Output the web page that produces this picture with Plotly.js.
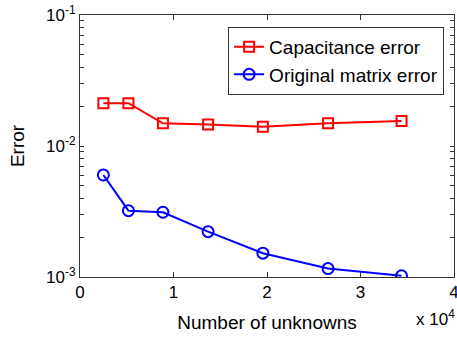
<!DOCTYPE html>
<html>
<head>
<meta charset="utf-8">
<script src="https://cdn.plot.ly/plotly-3.0.1.min.js"></script>
<style>
  html, body { margin: 0; padding: 0; background: #fff; }
  #chart { width: 457px; height: 338px; }
</style>
</head>
<body>
<div id="chart"></div>
<script>
// Number of unknowns for each mesh
const unknowns = [2500, 5180, 8870, 13700, 19560, 26530, 34390];
// Relative errors
const capacitanceError = [0.0212, 0.0212, 0.0149, 0.0146, 0.0140, 0.0149, 0.0155];
const matrixError = [0.00601, 0.00321, 0.00312, 0.00222, 0.00152, 0.00116, 0.00102];
const seriesNames = ['Capacitance error', 'Original matrix error'];

// Axis ticks
const xTickVals = [0, 10000, 20000, 30000, 40000];
const xTickText = ['0', '1', '2', '3', '4'];
const yMajor = [0.001, 0.01, 0.1];
const yMajorText = ['10<sup>-3</sup>', '10<sup>-2</sup>', '10<sup>-1</sup>'];

// minor decade ticks (unlabelled)
const yTickVals = [];
const yTickText = [];
for (let d = 0; d < yMajor.length; d++) {
  yTickVals.push(yMajor[d]);
  yTickText.push(yMajorText[d]);
  if (d < yMajor.length - 1) {
    for (let m = 2; m <= 9; m++) {
      yTickVals.push(yMajor[d] * m);
      yTickText.push('');
    }
  }
}

const family = 'Liberation Sans, Arial, sans-serif';
const tickFont = { family: family, size: 17, color: '#000' };
const labelFont = { family: family, size: 19, color: '#000' };

const traces = [
  {
    x: unknowns, y: capacitanceError, name: seriesNames[0],
    mode: 'lines+markers', type: 'scatter',
    line: { color: '#ff0000', width: 2 },
    marker: { symbol: 'square-open', size: 10, color: '#ff0000', line: { width: 2, color: '#ff0000' } }
  },
  {
    x: unknowns, y: matrixError, name: seriesNames[1],
    mode: 'lines+markers', type: 'scatter',
    line: { color: '#0000ff', width: 2 },
    marker: { symbol: 'circle-open', size: 11, color: '#0000ff', line: { width: 2, color: '#0000ff' } }
  }
];

const layout = {
  width: 457, height: 338,
  margin: { l: 80, r: 3, t: 15, b: 61 },
  paper_bgcolor: '#fff', plot_bgcolor: '#fff',
  font: labelFont,
  showlegend: true,
  legend: {
    x: 0.396, y: 0.955, xanchor: 'left', yanchor: 'top',
    bgcolor: '#fff', bordercolor: '#333', borderwidth: 1,
    font: labelFont, tracegroupgap: 0, itemwidth: 30
  },
  xaxis: {
    range: [0, 40000],
    tickvals: xTickVals, ticktext: xTickText,
    ticks: 'inside', ticklen: 5, tickcolor: '#333', tickwidth: 1,
    showline: true, linecolor: '#333', linewidth: 1, mirror: 'ticks',
    showgrid: false, zeroline: false, ticklabeloverflow: 'allow',
    title: { text: 'Number of unknowns', font: labelFont, standoff: 14 },
    tickfont: tickFont
  },
  yaxis: {
    type: 'log', range: [-3, -1],
    tickvals: yTickVals, ticktext: yTickText,
    ticks: 'inside', ticklen: 4, tickcolor: '#333', tickwidth: 1,
    showline: true, linecolor: '#333', linewidth: 1, mirror: 'ticks',
    showgrid: false, zeroline: false,
    title: { text: 'Error', font: labelFont, standoff: 16 },
    tickfont: tickFont
  },
  annotations: [
    {
      text: 'x 10<sup>4</sup>', xref: 'paper', yref: 'paper',
      x: 1.008, y: -0.105, xanchor: 'right', yanchor: 'top',
      showarrow: false, font: tickFont
    }
  ]
};

Plotly.newPlot('chart', traces, layout, { displayModeBar: false, staticPlot: true });
</script>
</body>
</html>
